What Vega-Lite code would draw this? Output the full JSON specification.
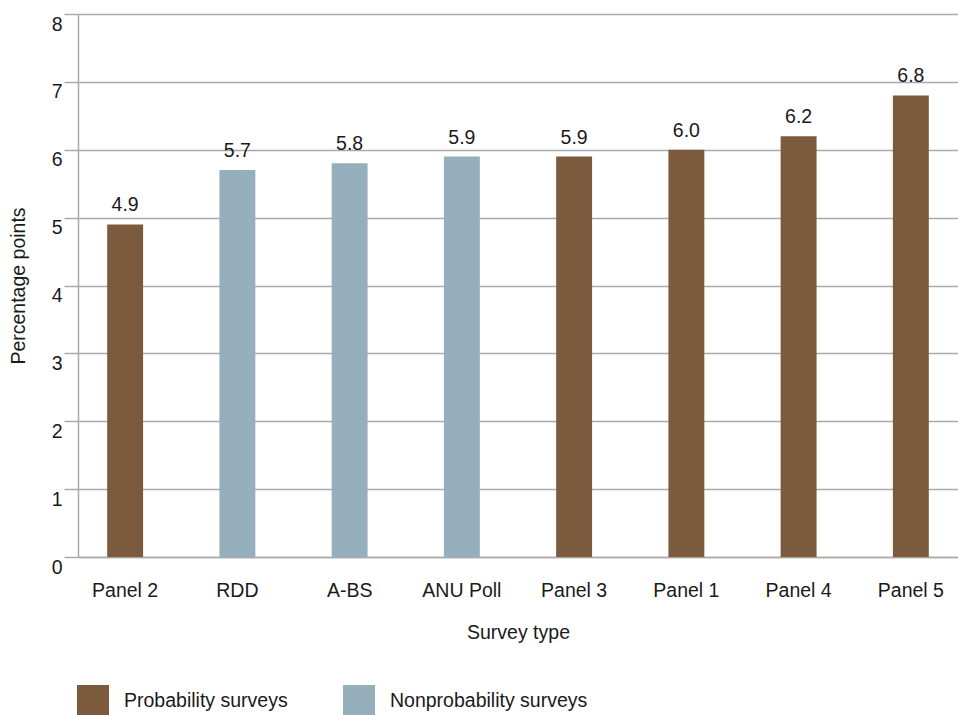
{
  "$schema": "https://vega.github.io/schema/vega-lite/v6.json",
  "width": 880,
  "height": 543,
  "autosize": "none",
  "padding": {"left": 78, "top": 14, "right": 0, "bottom": 158},
  "background": "white",
  "config": {
    "font": "Liberation Sans",
    "view": {"stroke": null},
    "axis": {"labelFont": "Liberation Sans", "titleFont": "Liberation Sans", "labelColor": "#1a1a1a", "titleColor": "#1a1a1a", "labelFontSize": 19.5, "titleFontSize": 19.5, "titleFontWeight": "normal"},
    "legend": {"labelFont": "Liberation Sans", "labelFontSize": 19.5, "labelColor": "#1a1a1a"}
  },
  "data": {
    "values": [
      {"survey": "Panel 2", "value": 4.9, "type": "Probability surveys"},
      {"survey": "RDD", "value": 5.7, "type": "Nonprobability surveys"},
      {"survey": "A-BS", "value": 5.8, "type": "Nonprobability surveys"},
      {"survey": "ANU Poll", "value": 5.9, "type": "Nonprobability surveys"},
      {"survey": "Panel 3", "value": 5.9, "type": "Probability surveys"},
      {"survey": "Panel 1", "value": 6.0, "type": "Probability surveys"},
      {"survey": "Panel 4", "value": 6.2, "type": "Probability surveys"},
      {"survey": "Panel 5", "value": 6.8, "type": "Probability surveys"}
    ]
  },
  "encoding": {
    "x": {
      "field": "survey",
      "type": "nominal",
      "sort": null,
      "scale": {"paddingInner": 0.68, "paddingOuter": 0.26},
      "axis": {
        "title": "Survey type",
        "labelAngle": 0,
        "ticks": false,
        "domain": true,
        "domainColor": "#aaaaaa",
        "domainWidth": 1.5,
        "labelPadding": 33,
        "labelBaseline": "middle",
        "titleY": 75,
        "titleBaseline": "middle"
      }
    },
    "y": {
      "field": "value",
      "type": "quantitative",
      "scale": {"domain": [0, 8], "nice": false},
      "axis": {
        "title": "Percentage points",
        "values": [0, 1, 2, 3, 4, 5, 6, 7, 8],
        "labelOverlap": false,
        "grid": true,
        "gridColor": "#aaaaaa",
        "gridWidth": 1.5,
        "domain": true,
        "domainColor": "#aaaaaa",
        "domainWidth": 1.5,
        "ticks": true,
        "tickSize": 14,
        "tickColor": "#aaaaaa",
        "tickWidth": 1.5,
        "labelPadding": 2,
        "labelOffset": 10,
        "labelBaseline": "middle",
        "titleX": -60,
        "titleY": 271.5,
        "titleAngle": -90,
        "titleBaseline": "middle",
        "titleAlign": "center"
      }
    }
  },
  "layer": [
    {
      "mark": {"type": "bar"},
      "encoding": {
        "color": {
          "field": "type",
          "type": "nominal",
          "scale": {"domain": ["Probability surveys", "Nonprobability surveys"], "range": ["#7b5a3e", "#95afbd"]},
          "legend": {
            "title": null,
            "orient": "none",
            "direction": "horizontal",
            "legendX": -1,
            "legendY": 671,
            "symbolType": "square",
            "symbolSize": 1024,
            "symbolStrokeWidth": 0,
            "symbolOpacity": 1,
            "labelOffset": 15,
            "labelLimit": 400,
            "columnPadding": 55
          }
        }
      }
    },
    {
      "mark": {"type": "text", "baseline": "alphabetic", "dy": -13, "fontSize": 19.5, "color": "#1a1a1a", "font": "Liberation Sans"},
      "encoding": {
        "text": {"field": "value", "type": "quantitative", "format": ".1f"}
      }
    }
  ]
}
